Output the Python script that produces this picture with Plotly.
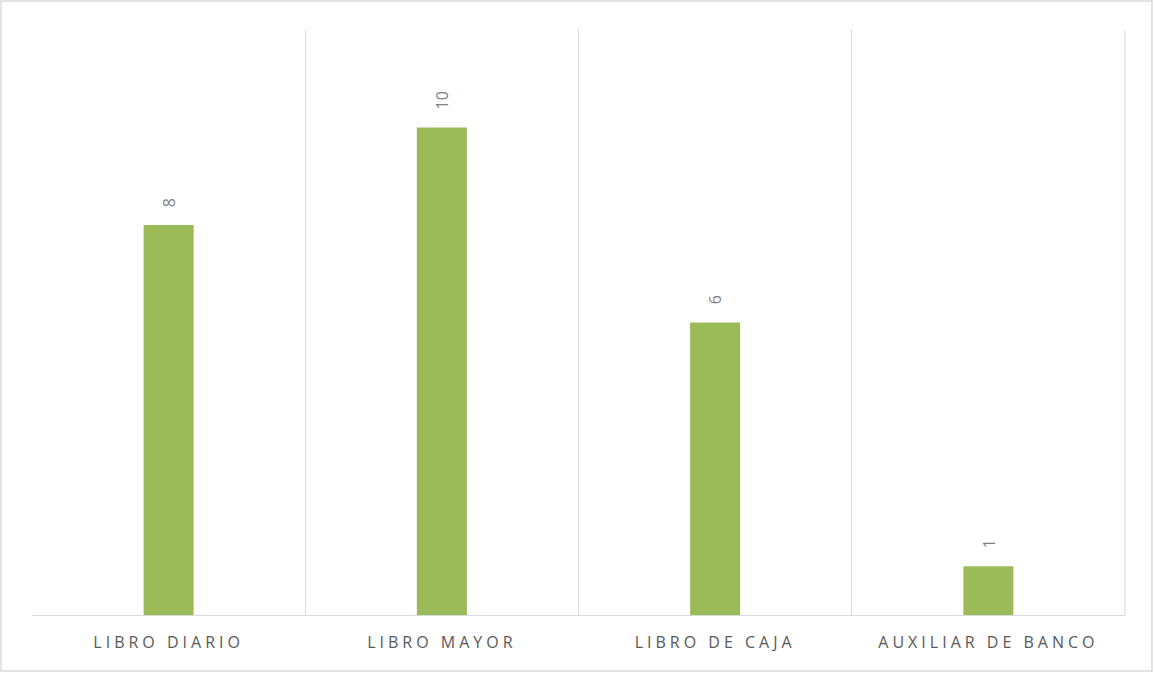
import plotly.graph_objects as go

categories = ["LIBRO DIARIO", "LIBRO MAYOR", "LIBRO DE CAJA", "AUXILIAR DE BANCO"]
values = [8, 10, 6, 1]

W, H = 1154, 673
L, R, T, B = 32, 29, 30, 58
pw, ph = W - L - R, H - T - B
FONT = "Open Sans, Lato, sans-serif"

fig = go.Figure()
fig.add_trace(go.Bar(
    x=categories, y=values,
    marker=dict(color="#9BBB59", line=dict(width=0)),
    width=0.183,
    hoverinfo="x+y",
))

for c, v in zip(categories, values):
    fig.add_annotation(x=c, y=v, text=str(v), showarrow=False,
                       textangle=-90, yanchor="bottom", yshift=16,
                       font=dict(family=FONT, size=16, color="#808080"))

fig.update_layout(
    width=W, height=H,
    margin=dict(l=L, r=R, t=T, b=B),
    paper_bgcolor="white", plot_bgcolor="white",
    showlegend=False,
    xaxis=dict(
        type="category",
        tickson="boundaries",
        showgrid=True, gridcolor="#D9D9D9", gridwidth=1,
        showline=True, linecolor="#D9D9D9", linewidth=1,
        ticks="", range=[-0.5, 3.5],
        tickfont=dict(family=FONT, size=16, color="#595959"),
        ticklabelstandoff=13,
    ),
    yaxis=dict(range=[0, 12], visible=False, showgrid=False, zeroline=False),
)

# right boundary line
fig.add_shape(type="line", xref="paper", yref="paper", x0=1, x1=1, y0=0, y1=1,
              line=dict(color="#D9D9D9", width=1))
# outer chart border
fig.add_shape(type="rect", xref="paper", yref="paper",
              x0=(1 - L) / pw, x1=(W - 2 - L) / pw,
              y0=-(H - 2 - (T + ph)) / ph, y1=(T + ph - 1) / ph,
              line=dict(color="#D9D9D9", width=1.5), layer="below")

post = """
function sp(){document.querySelectorAll('.xtick text').forEach(function(t){
  t.style.letterSpacing='4px';
  var x = parseFloat(t.getAttribute('x')||'0');
});}
sp(); setTimeout(sp,50);
"""
fig.write_html("out.html", post_script=post)
